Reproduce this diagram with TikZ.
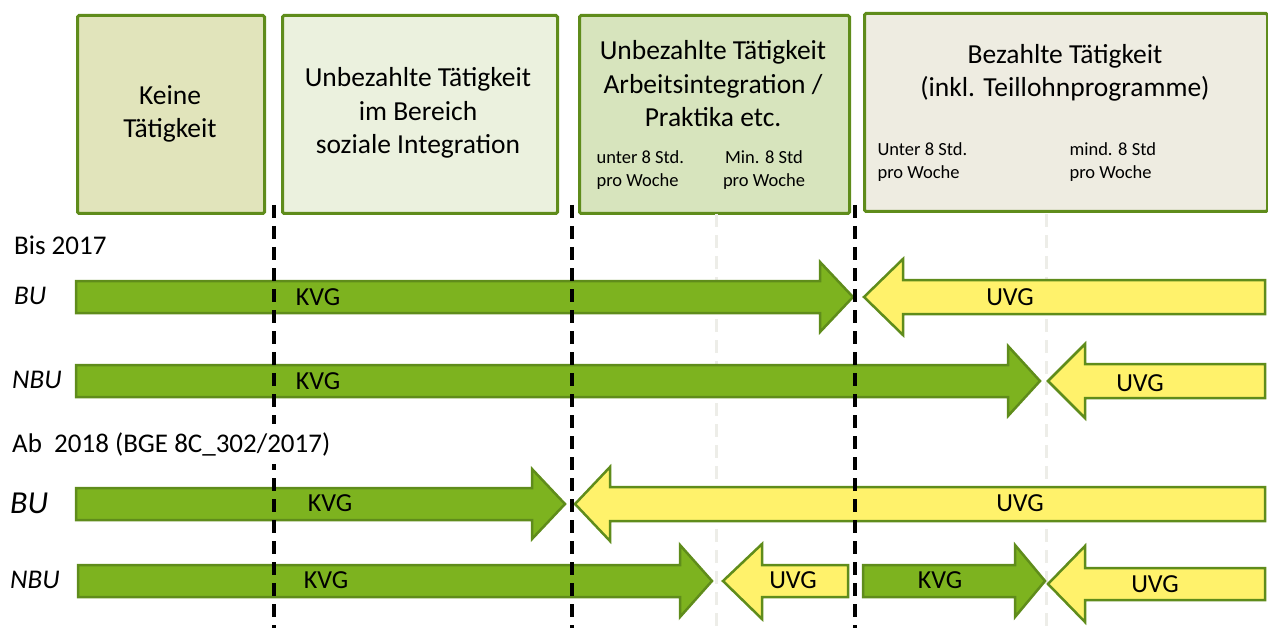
\documentclass[tikz,border=0pt]{standalone}
\usepackage{fontspec}
\setmainfont{Carlito}
\usepackage{xcolor}
\definecolor{rahmen}{HTML}{5F8C1B}
\definecolor{keinefill}{HTML}{E1E4BB}
\definecolor{sozfill}{HTML}{EBF1DE}
\definecolor{arbfill}{HTML}{D7E4BD}
\definecolor{bezfill}{HTML}{EEECE1}
\definecolor{kvggruen}{HTML}{7DB31F}
\definecolor{uvggelb}{HTML}{FFF26B}
\definecolor{blass}{HTML}{EDEDE8}

\tikzset{
	feld/.style={draw=rahmen, line width=3pt, rounded corners=1.5pt, anchor=north west, inner sep=0pt},
	titel/.style={align=center, font=\fontsize{27.5}{33.5}\selectfont},
	klein/.style={align=left, anchor=west, font=\fontsize{18.5}{23}\selectfont},
	zeile/.style={anchor=west, inner sep=0pt, font=\fontsize{27}{30}\selectfont},
	kvgpfeil/.style={draw=rahmen, fill=kvggruen, line width=2.5pt, line join=miter},
	uvgpfeil/.style={draw=rahmen, fill=uvggelb, line width=2.5pt, line join=miter},
	pfeiltext/.style={font=\fontsize{26}{30}\selectfont},
	grenze/.style={line width=4pt, dash pattern=on 13pt off 8pt},
	hilfslinie/.style={blass, line width=3pt, dash pattern=on 13pt off 8pt}
}

\begin{document}
\begin{tikzpicture}[x=1pt, y=-1pt]
	\useasboundingbox (0,0) rectangle (1268,628);

	% Kopfzeile
	\node[feld, fill=keinefill, minimum width=187pt, minimum height=198pt] (keine) at (76,14) {};
	\node[feld, fill=sozfill, minimum width=275pt, minimum height=198pt] (sozial) at (281,14) {};
	\node[feld, fill=arbfill, minimum width=270pt, minimum height=198pt] (arbeit) at (578,14) {};
	\node[feld, fill=bezfill, minimum width=403pt, minimum height=198pt] (bezahlt) at (863,12) {};

	\node[titel] (keinetxt) at (170,114) {Keine\\Tätigkeit};
	\node[titel] (soztxt) at (418,113) {Unbezahlte Tätigkeit\\im Bereich\\soziale Integration};
	\node[titel] (arbtxt) at (713,84) {Unbezahlte Tätigkeit\\Arbeitsintegration /\\Praktika etc.};
	\node[titel] (beztxt) at (1065,73) {Bezahlte Tätigkeit\\(inkl. Teillohnprogramme)};

	\node[klein] (arbunter) at (593,170) {unter 8 Std.\\pro Woche};
	\node[klein, align=center, anchor=center] (arbmin) at (764,170) {Min. 8 Std\\pro Woche};
	\node[klein] (bezunter) at (874,162) {Unter 8 Std.\\pro Woche};
	\node[klein] (bezmind) at (1066,162) {mind. 8 Std\\pro Woche};

	% blasse Trennlinien
	\draw[hilfslinie] (716,214) -- (716,628);
	\draw[hilfslinie] (1046,214) -- (1046,628);

	% Bis 2017
	\node[zeile] (bis) at (14,245) {Bis 2017};
	\node[zeile] (bu1) at (14,296) {\itshape BU};
	\node[zeile] (nbu1) at (12,380) {\itshape NBU};

	\draw[kvgpfeil] (76,281) -- (820,281) -- (820,262) -- (853,297) -- (820,332) -- (820,313) -- (76,313) -- cycle;
	\draw[uvgpfeil] (1265,280) -- (903,280) -- (903,259) -- (864,297) -- (903,335) -- (903,314) -- (1265,314) -- cycle;
	\draw[kvgpfeil] (76,365) -- (1008,365) -- (1008,346) -- (1040,381) -- (1008,416) -- (1008,397) -- (76,397) -- cycle;
	\draw[uvgpfeil] (1265,364) -- (1085,364) -- (1085,344) -- (1048,381) -- (1085,418) -- (1085,398) -- (1265,398) -- cycle;

	% Ab 2018
	\node[zeile] (bu2) at (10,503) {\fontsize{32}{36}\selectfont\itshape BU};
	\node[zeile] (nbu2) at (10,580) {\itshape NBU};

	\draw[kvgpfeil] (76,488) -- (532,488) -- (532,469) -- (565,504) -- (532,539) -- (532,520) -- (76,520) -- cycle;
	\draw[uvgpfeil] (1265,487) -- (610,487) -- (610,467) -- (575,504) -- (610,541) -- (610,521) -- (1265,521) -- cycle;
	\draw[kvgpfeil] (78,565) -- (680,565) -- (680,545) -- (712,581) -- (680,617) -- (680,597) -- (78,597) -- cycle;
	\draw[uvgpfeil] (848,565) -- (762,565) -- (762,544) -- (723,581) -- (762,619) -- (762,597) -- (848,597) -- cycle;
	\draw[kvgpfeil] (863,565) -- (1015,565) -- (1015,545) -- (1045,581) -- (1015,617) -- (1015,597) -- (863,597) -- cycle;
	\draw[uvgpfeil] (1265,568) -- (1085,568) -- (1085,546) -- (1048,584) -- (1085,622) -- (1085,600) -- (1265,600) -- cycle;

	\node[pfeiltext] (kvg1) at (318,297) {KVG};
	\node[pfeiltext] (uvg1) at (1010,297) {UVG};
	\node[pfeiltext] (kvg2) at (318,381) {KVG};
	\node[pfeiltext] (uvg2) at (1140,383) {UVG};
	\node[pfeiltext] (kvg3) at (330,503) {KVG};
	\node[pfeiltext] (uvg3) at (1020,503) {UVG};
	\node[pfeiltext] (kvg4) at (326,580) {KVG};
	\node[pfeiltext] (uvg4) at (793,580) {UVG};
	\node[pfeiltext] (kvg5) at (940,580) {KVG};
	\node[pfeiltext] (uvg5) at (1155,584) {UVG};

	% schwarze Grenzen
	\draw[grenze] (274,205) -- (274,628);
	\draw[grenze] (572,205) -- (572,628);
	\draw[grenze] (855,205) -- (855,628);

	\node[zeile, fill=white, inner xsep=2pt, inner ysep=8pt] (ab) at (10,444) {Ab~~2018 (BGE 8C\_302/2017)};
\end{tikzpicture}
\end{document}
